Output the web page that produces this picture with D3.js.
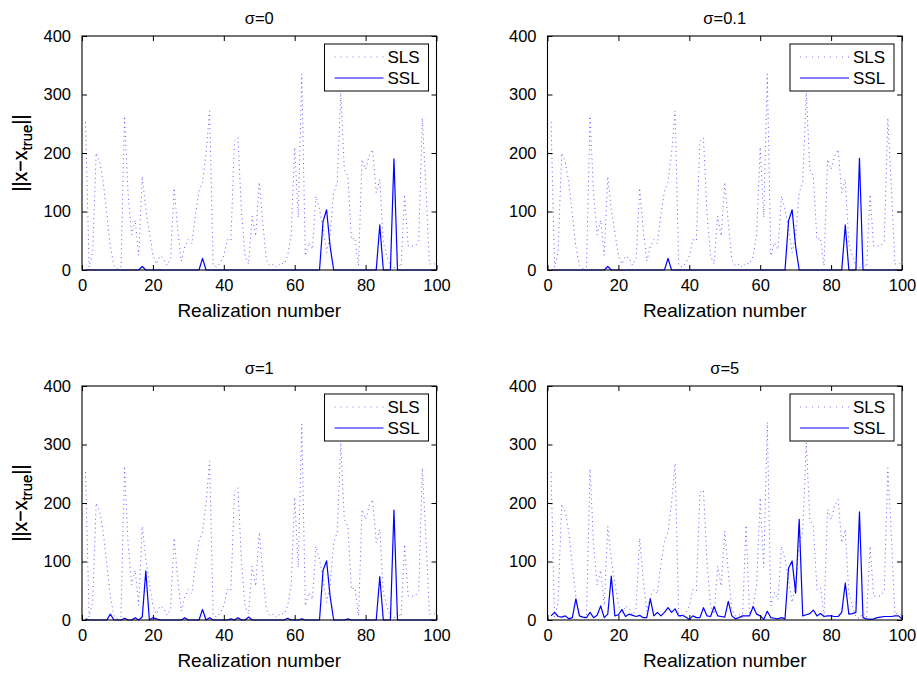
<!DOCTYPE html>
<html>
<head>
<meta charset="utf-8">
<script src="https://cdn.jsdelivr.net/npm/d3@7"></script>
<style>
  body { margin: 0; background: #fff; }
  svg text { font-family: "Liberation Sans", Arial, Helvetica, sans-serif; fill: #000; }
</style>
</head>
<body>
<svg id="chart" width="917" height="674"></svg>
<script>
// realization numbers on the x axis
const realization = d3.range(1, 101);
const xTicks = [0, 20, 40, 60, 80, 100];
const yTicks = [0, 100, 200, 300, 400];
const panelTitles = ["σ=0", "σ=0.1", "σ=1", "σ=5"];
const seriesNames = ["SLS", "SSL"];

// SLS error per realization (sigma 0 / 0.1 / 1)
const slsValues = [
  253, 5, 30, 200, 185, 150, 95, 40, 8, 2,
  5, 263, 130, 60, 85, 25, 160, 104, 64, 25,
  10, 24, 20, 8, 20, 140, 70, 15, 40, 52,
  45, 95, 135, 150, 200, 272, 8, 5, 12, 24,
  52, 50, 220, 226, 98, 24, 10, 92, 58, 150,
  81, 18, 7, 10, 4, 12, 10, 24, 60, 210,
  90, 335, 24, 47, 35, 126, 104, 70, 30, 60,
  132, 150, 303, 172, 160, 52, 55, 7, 189, 172,
  195, 206, 132, 155, 47, 24, 5, 3, 12, 5,
  129, 41, 41, 41, 50, 260, 143, 10, 12, 8
];

// SLS error per realization (sigma 5)
const slsValuesSigma5 = [
  253, 5, 30, 198, 185, 150, 95, 40, 8, 2,
  5, 258, 130, 60, 85, 25, 160, 104, 64, 25,
  10, 24, 20, 8, 20, 140, 70, 15, 40, 52,
  45, 95, 135, 150, 200, 268, 8, 5, 12, 24,
  52, 50, 218, 222, 98, 24, 10, 92, 58, 152,
  81, 18, 7, 10, 4, 162, 10, 24, 60, 209,
  90, 338, 24, 47, 35, 126, 104, 70, 30, 60,
  132, 150, 303, 172, 160, 52, 55, 7, 189, 172,
  195, 206, 132, 155, 47, 24, 5, 3, 12, 5,
  126, 41, 41, 41, 50, 260, 143, 10, 12, 8
];

const sslSigma0 = [
  0, 0, 0, 0, 0, 0, 0, 0, 0, 0,
  0, 0, 0, 0, 0, 0, 6, 0, 0, 0,
  0, 0, 0, 0, 0, 0, 0, 0, 0, 0,
  0, 0, 0, 20, 0, 0, 0, 0, 0, 0,
  0, 0, 0, 0, 0, 0, 0, 0, 0, 0,
  0, 0, 0, 0, 0, 0, 0, 0, 0, 0,
  0, 0, 0, 0, 0, 0, 0, 83, 103, 40,
  0, 0, 0, 0, 0, 0, 0, 0, 0, 0,
  0, 0, 0, 77, 0, 0, 0, 190, 0, 0,
  0, 0, 0, 0, 0, 0, 0, 0, 0, 0
];

const sslSigma01 = [
  0, 0, 0, 0, 0, 0, 0, 0, 0, 0,
  0, 0, 0, 0, 0, 0, 6, 0, 0, 0,
  0, 0, 0, 0, 0, 0, 0, 0, 0, 0,
  0, 0, 0, 20, 0, 0, 0, 0, 0, 0,
  0, 0, 0, 0, 0, 0, 0, 0, 0, 0,
  0, 0, 0, 0, 0, 0, 0, 0, 0, 0,
  0, 0, 0, 0, 0, 0, 0, 84, 103, 40,
  0, 0, 0, 0, 0, 0, 0, 0, 0, 0,
  0, 0, 0, 77, 0, 0, 0, 191, 0, 0,
  0, 0, 0, 0, 0, 0, 0, 0, 0, 0
];

const sslSigma1 = [
  2, 0, 0, 0, 0, 0, 0, 10, 0, 0,
  0, 3, 0, 0, 4, 0, 5, 84, 0, 4,
  2, 0, 0, 0, 0, 0, 0, 0, 4, 0,
  0, 0, 0, 18, 0, 4, 0, 0, 0, 0,
  0, 2, 0, 4, 0, 0, 5, 0, 0, 0,
  0, 0, 0, 0, 0, 0, 0, 3, 0, 0,
  0, 2, 0, 0, 0, 0, 0, 85, 101, 40,
  0, 0, 0, 0, 2, 0, 0, 0, 0, 0,
  0, 0, 0, 74, 0, 0, 0, 188, 0, 0,
  0, 0, 0, 0, 0, 0, 0, 0, 0, 0
];

const sslSigma5 = [
  7, 13, 6, 5, 7, 2, 4, 36, 7, 5,
  4, 13, 4, 8, 24, 4, 10, 75, 7, 9,
  18, 6, 10, 8, 6, 8, 4, 4, 36, 7,
  13, 7, 13, 21, 13, 19, 7, 8, 5, 1,
  7, 4, 4, 21, 7, 6, 23, 7, 6, 5,
  32, 7, 2, 4, 7, 7, 7, 23, 10, 7,
  1, 15, 4, 3, 2, 4, 2, 89, 101, 46,
  172, 7, 9, 11, 17, 7, 11, 6, 7, 7,
  6, 6, 13, 63, 10, 11, 13, 185, 4, 2,
  1, 2, 4, 5, 6, 6, 6, 7, 7, 2
];

const slsSeries = [slsValues, slsValues, slsValues, slsValuesSigma5];
const sslSeries = [sslSigma0, sslSigma01, sslSigma1, sslSigma5];

const svg = d3.select("#chart");
const plotW = 354.5, plotH = 234;
const lefts = [82, 547.5], tops = [36, 386];
const blue = "#0000ff";
const slsColor = "#4040ff";

const x = d3.scaleLinear().domain([0, 100]).range([0, plotW]);
const y = d3.scaleLinear().domain([0, 400]).range([plotH, 0]);

function drawPanel(i) {
  const left = lefts[i % 2], top = tops[Math.floor(i / 2)];
  const g = svg.append("g").attr("transform", `translate(${left},${top})`);

  const line = d3.line().x((d, k) => x(realization[k])).y(d => y(d));

  g.append("path")
    .datum(slsSeries[i])
    .attr("d", line)
    .attr("fill", "none")
    .attr("stroke", slsColor)
    .attr("stroke-width", 1)
    .attr("stroke-dasharray", "1,3.5")
    .attr("opacity", 0.85);

  g.append("path")
    .datum(sslSeries[i])
    .attr("d", line)
    .attr("fill", "none")
    .attr("stroke", blue)
    .attr("stroke-width", 1.2)
    .attr("stroke-linejoin", "round");

  // axes, ticks pointing inward like matlab
  const tick = 5;
  const gx = g.append("g").attr("transform", `translate(0,${plotH})`)
    .call(d3.axisBottom(x).tickValues(xTicks).tickSize(-tick).tickPadding(tick + 4).tickFormat(d3.format("d")));
  const gxTop = g.append("g")
    .call(d3.axisTop(x).tickValues(xTicks).tickSize(-tick).tickFormat(""));
  const gy = g.append("g")
    .call(d3.axisLeft(y).tickValues(yTicks).tickSize(-tick).tickPadding(tick + 6).tickFormat(d3.format("d")));
  const gyRight = g.append("g").attr("transform", `translate(${plotW},0)`)
    .call(d3.axisRight(y).tickValues(yTicks).tickSize(-tick).tickFormat(""));

  [gx, gxTop, gy, gyRight].forEach(a => {
    a.select(".domain").remove();
    a.selectAll(".tick line").attr("stroke", "#000").attr("stroke-width", 1);
    a.selectAll("text").attr("font-size", 16.5).attr("fill", "#000");
  });

  g.append("rect")
    .attr("width", plotW).attr("height", plotH)
    .attr("fill", "none").attr("stroke", "#000").attr("stroke-width", 1.1);

  // title
  g.append("text")
    .attr("x", plotW / 2).attr("y", -12)
    .attr("text-anchor", "middle")
    .attr("font-size", 16.5)
    .text(panelTitles[i]);

  // x label
  g.append("text")
    .attr("x", plotW / 2).attr("y", plotH + 47)
    .attr("text-anchor", "middle")
    .attr("font-size", 19)
    .text("Realization number");

  // y label with subscript
  const yl = g.append("text")
    .attr("transform", `translate(${-left + 27},${plotH / 2}) rotate(-90)`)
    .attr("text-anchor", "middle")
    .attr("font-size", 19.5);
  yl.append("tspan").text("||x−x");
  yl.append("tspan").attr("font-size", 15).attr("dy", 5).text("true");
  yl.append("tspan").attr("dy", -5).text("||");

  // legend
  const lw = 104, lh = 47;
  const lg = g.append("g").attr("transform", `translate(${plotW - 8 - lw},8)`);
  lg.append("rect").attr("width", lw).attr("height", lh)
    .attr("fill", "#fff").attr("stroke", "#000").attr("stroke-width", 1);
  seriesNames.forEach((name, k) => {
    const ly = 13 + k * 21;
    lg.append("line")
      .attr("x1", 10).attr("x2", 59).attr("y1", ly).attr("y2", ly)
      .attr("stroke", k === 0 ? slsColor : blue)
      .attr("stroke-width", k === 0 ? 1 : 1.2)
      .attr("stroke-dasharray", k === 0 ? "1,5" : null)
      .attr("opacity", k === 0 ? 0.7 : 1);
    lg.append("text")
      .attr("x", 63).attr("y", ly).attr("dy", "0.36em")
      .attr("font-size", 17)
      .text(name);
  });
}

panelTitles.forEach((t, i) => drawPanel(i));
</script>
</body>
</html>
